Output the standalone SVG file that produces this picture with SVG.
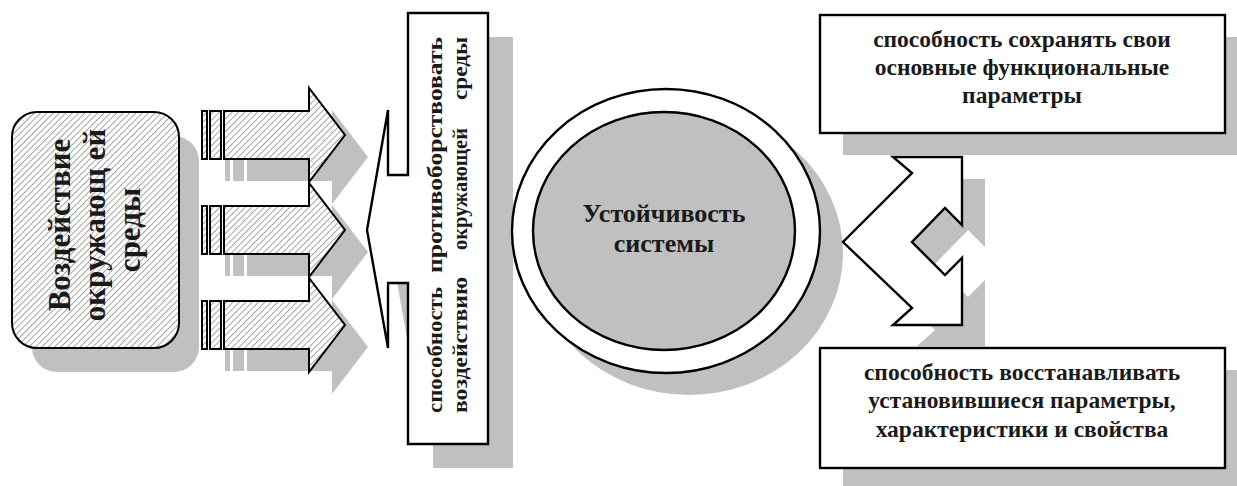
<svg xmlns="http://www.w3.org/2000/svg" width="1237" height="486" viewBox="0 0 1237 486">
  <defs>
    <pattern id="hatch" patternUnits="userSpaceOnUse" width="4.5" height="4.5" patternTransform="rotate(45)">
      <rect width="4.5" height="4.5" fill="#ffffff"/>
      <line x1="0.5" y1="0" x2="0.5" y2="4.5" stroke="#9a9a9a" stroke-width="0.9"/>
    </pattern>
  </defs>
  <style>
    .sh { fill: #c0c0c0; stroke: none; }
    .ln { fill: #ffffff; stroke: #000000; stroke-width: 2.4; stroke-linejoin: miter; }
    .ht { fill: url(#hatch); stroke: #000000; stroke-width: 2; stroke-linejoin: miter; }
    .inner { fill: #c0c0c0; stroke: #000000; stroke-width: 2.4; }
    .t { font-family: 'Liberation Serif', 'Times New Roman', 'DejaVu Serif', serif; font-weight: bold; fill: #1a1a1a; }
  </style>
  <rect width="1237" height="486" fill="#ffffff"/>

  <g id="impact">
    <rect class="sh" x="32" y="136" width="167" height="236" rx="25"/>
    <rect class="ht" x="12" y="112" width="167" height="236" rx="25"/>
    <g class="t" font-size="31" text-anchor="middle">
      <text transform="translate(70,225) rotate(-90)">Воздействие</text>
      <text transform="translate(105,225) rotate(-90)">окружающ ей</text>
      <text transform="translate(140,230) rotate(-90)">среды</text>
    </g>
  </g>

  <g id="connectors">
    <g id="arrow1">
      <g transform="translate(23,22)">
        <rect class="sh" x="202" y="111" width="5" height="48"/>
        <rect class="sh" x="210" y="111" width="11" height="48"/>
        <path class="sh" d="M224,111 L309,111 L309,88 L345,135 L309,182 L309,159 L224,159 Z"/>
      </g>
      <rect class="ht" x="202" y="111" width="5" height="48"/>
      <rect class="ht" x="210" y="111" width="11" height="48"/>
      <path class="ht" d="M224,111 L309,111 L309,88 L345,135 L309,182 L309,159 L224,159 Z"/>
    </g>
    <g id="arrow2">
      <g transform="translate(23,22)">
        <rect class="sh" x="202" y="206" width="5" height="48"/>
        <rect class="sh" x="210" y="206" width="11" height="48"/>
        <path class="sh" d="M224,206 L309,206 L309,183 L345,230 L309,277 L309,254 L224,254 Z"/>
      </g>
      <rect class="ht" x="202" y="206" width="5" height="48"/>
      <rect class="ht" x="210" y="206" width="11" height="48"/>
      <path class="ht" d="M224,206 L309,206 L309,183 L345,230 L309,277 L309,254 L224,254 Z"/>
    </g>
    <g id="arrow3">
      <g transform="translate(23,22)">
        <rect class="sh" x="202" y="301" width="5" height="48"/>
        <rect class="sh" x="210" y="301" width="11" height="48"/>
        <path class="sh" d="M224,301 L309,301 L309,278 L345,325 L309,372 L309,349 L224,349 Z"/>
      </g>
      <rect class="ht" x="202" y="301" width="5" height="48"/>
      <rect class="ht" x="210" y="301" width="11" height="48"/>
      <path class="ht" d="M224,301 L309,301 L309,278 L345,325 L309,372 L309,349 L224,349 Z"/>
    </g>
  </g>

  <g id="resist">
    <path class="sh" transform="translate(25,24)" d="M408,13 L488,13 L488,444 L408,444 L408,283 L388,283 L388,348 L367,230 L388,110 L388,175 L408,175 Z"/>
    <path class="ln" d="M408,13 L488,13 L488,444 L408,444 L408,283 L388,283 L388,348 L367,230 L388,110 L388,175 L408,175 Z"/>
    <g class="t" font-size="20">
      <text transform="translate(442,413) rotate(-90)" textLength="126" lengthAdjust="spacingAndGlyphs">способность</text>
      <text transform="translate(442,273) rotate(-90)" textLength="236" lengthAdjust="spacingAndGlyphs">противоборствовать</text>
      <text transform="translate(467,413) rotate(-90)" textLength="136" lengthAdjust="spacingAndGlyphs">воздействию</text>
      <text transform="translate(467,250) rotate(-90)" textLength="122" lengthAdjust="spacingAndGlyphs">окружающей</text>
      <text transform="translate(467,100) rotate(-90)" textLength="63" lengthAdjust="spacingAndGlyphs">среды</text>
    </g>
  </g>

  <g id="stability">
    <ellipse class="sh" cx="689" cy="253" rx="154" ry="142"/>
    <ellipse class="ln" cx="666" cy="231" rx="154" ry="142"/>
    <ellipse class="inner" cx="664" cy="231" rx="131" ry="119"/>
    <g class="t" font-size="26" text-anchor="middle">
      <text x="664" y="222">Устойчивость</text>
      <text x="664" y="252">системы</text>
    </g>
  </g>

  <g id="keep">
    <rect class="sh" x="843" y="37" width="405" height="118"/>
    <rect class="ln" x="820" y="15" width="405" height="118"/>
    <g class="t" font-size="23.5" text-anchor="middle">
      <text x="1022" y="47">способность сохранять свои</text>
      <text x="1022" y="75">основные функциональные</text>
      <text x="1022" y="103">параметры</text>
    </g>
  </g>

  <g id="restore">
    <rect class="sh" x="843" y="370" width="405" height="120"/>
    <rect class="ln" x="820" y="348" width="405" height="120"/>
    <g class="t" font-size="23.5" text-anchor="middle">
      <text x="1022" y="380">способность восстанавливать</text>
      <text x="1022" y="408">установившиеся параметры,</text>
      <text x="1022" y="437">характеристики и свойства</text>
    </g>
  </g>

  <g id="split">
    <path class="sh" transform="translate(23,22)" d="M893,157 L962,157 L962,225 L945,208 L912,242 L945,275 L962,258 L962,325 L893,325 L912,308 L843,242 L912,173 Z"/>
    <path class="ln" d="M893,157 L962,157 L962,225 L945,208 L912,242 L945,275 L962,258 L962,325 L893,325 L912,308 L843,242 L912,173 Z"/>
  </g>
</svg>
